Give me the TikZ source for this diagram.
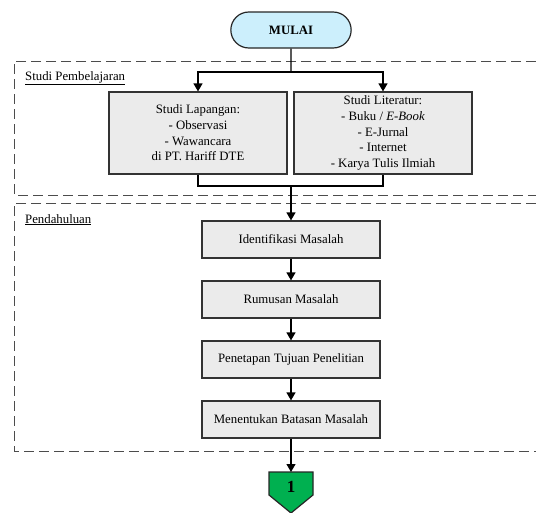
\documentclass[tikz,border=0pt]{standalone}
\usepackage{fontspec}
\setmainfont{Liberation Serif}
\usepackage{tikz}
\usetikzlibrary{arrows.meta}
\usetikzlibrary{shapes.misc}
\definecolor{hijau}{HTML}{00B050}

\begin{document}
\begin{tikzpicture}[x=1pt,y=-1pt,
  font=\fontsize{12.8}{15.7}\selectfont,
  proses/.style={draw=black!80,line width=1.2pt,fill=black!8,minimum width=178pt,minimum height=37pt,inner sep=2pt,align=center},
  panah/.style={line width=1.2pt,-{Triangle[width=9pt,length=8pt]}},
  garis/.style={line width=1.2pt},
  bagian/.style={draw=black!70,line width=1pt,dash pattern=on 10pt off 5pt}]
\useasboundingbox (0,0) rectangle (536,512);

% bingkai tahap
\draw[bagian] (536,61) -- (14,61) -- (14,195) -- (536,195);
\draw[bagian] (536,203) -- (14,203) -- (14,451) -- (536,451);
\node[anchor=base west,inner sep=0pt] (judulA) at (25,80) {\underline{Studi Pembelajaran}};
\node[anchor=base west,inner sep=0pt] (judulB) at (25,223) {\underline{Pendahuluan}};

\node[draw=black!85,line width=1.2pt,fill=cyan!20,rounded rectangle,minimum width=127pt,minimum height=36pt] (mulai) at (291,30) {\textbf{MULAI}};

\node[proses,minimum height=82pt] (lapangan) at (198,133) {Studi Lapangan:\\- Observasi\\- Wawancara\\di PT. Hariff DTE};
\node[proses,minimum height=82pt] (literatur) at (383,133) {Studi Literatur:\\- Buku / \textit{E-Book}\\- E-Jurnal\\- Internet\\- Karya Tulis Ilmiah};

\foreach \nama/\teks [count=\i] in {identifikasi/Identifikasi Masalah,rumusan/Rumusan Masalah,tujuan/Penetapan Tujuan Penelitian,batasan/Menentukan Batasan Masalah}
  \node[proses] (\nama) at (291,179.5+60*\i) {\teks};

\draw[draw=black!85,line width=1.2pt,fill=hijau] (269,472) -- (313,472) -- (313,495) -- (291,513) -- (269,495) -- cycle;
\node[font=\fontsize{17}{20}\selectfont\bfseries] (satu) at (291,487) {1};

\coordinate (cabang) at (291,72);
\coordinate (gabung) at (291,186);
\coordinate (satuAtas) at (291,472);

\draw[garis] (mulai) -- (cabang);
\draw[panah] (cabang) -| (lapangan);
\draw[panah] (cabang) -| (literatur);
\draw[garis] (lapangan) |- (gabung) -| (literatur);
\draw[panah] (gabung) -- (identifikasi);
\foreach \a/\b in {identifikasi/rumusan,rumusan/tujuan,tujuan/batasan}
  \draw[panah] (\a) -- (\b);
\draw[panah] (batasan) -- (satuAtas);

\end{tikzpicture}
\end{document}
